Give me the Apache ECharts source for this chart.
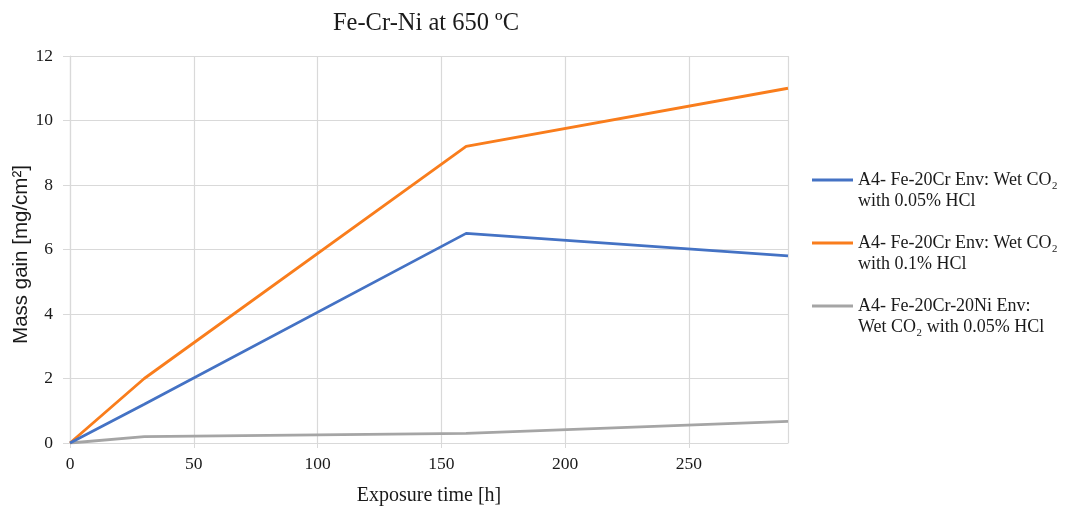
<!DOCTYPE html>
<html>
<head>
<meta charset="utf-8">
<script src="https://cdn.jsdelivr.net/npm/echarts@6/dist/echarts.min.js"></script>
<style>
  html, body { margin: 0; padding: 0; background: #fff; }
  #chart { width: 1070px; height: 507px; }
</style>
</head>
<body>
<div id="chart"></div>
<script>
// Exposure times [h]
const hours = [0, 30, 160, 290];

// Mass gain [mg/cm²] per alloy / environment
const fe20Cr005 = [0, 1.2, 6.5, 5.8];
const fe20Cr01 = [0, 2.0, 9.2, 11.0];
const fe20Cr20Ni005 = [0, 0.2, 0.3, 0.67];

const seriesNames = [
  'A4- Fe-20Cr Env: Wet CO₂\nwith 0.05% HCl',
  'A4- Fe-20Cr Env: Wet CO₂\nwith 0.1% HCl',
  'A4- Fe-20Cr-20Ni Env:\nWet CO₂ with 0.05% HCl'
];
const seriesColors = ['#4472c4', '#f97d1c', '#a5a5a5'];
const seriesValues = [fe20Cr005, fe20Cr01, fe20Cr20Ni005];

const serif = '"Liberation Serif", "DejaVu Serif", serif';
const sans = '"Liberation Sans", Arial, sans-serif';

const chart = echarts.init(document.getElementById('chart'), null, { renderer: 'canvas' });

chart.setOption({
  animation: false,
  backgroundColor: '#ffffff',
  title: {
    text: 'Fe-Cr-Ni at 650 ºC',
    left: 421,
    textAlign: 'center',
    top: 6,
    textStyle: { fontFamily: serif, fontSize: 24.5, fontWeight: 'normal', color: '#1a1a1a' }
  },
  grid: { left: 70, right: 282, top: 56, bottom: 64, containLabel: false, outerBoundsMode: 'none' },
  legend: {
    orient: 'vertical',
    left: 812,
    top: 148.5,
    padding: 0,
    icon: 'rect',
    itemWidth: 41,
    itemHeight: 2.8,
    itemGap: 0,
    // a blank leading line keeps the swatch level with the first text line
    formatter: name => '\n' + name,
    textStyle: {
      fontFamily: serif, fontSize: 18, color: '#1a1a1a', lineHeight: 21
    },
    data: seriesNames
  },
  xAxis: {
    type: 'value',
    min: 0,
    max: 290,
    interval: 50,
    name: 'Exposure time [h]',
    nameLocation: 'middle',
    nameGap: 43,
    nameTextStyle: { fontFamily: serif, fontSize: 20, color: '#1a1a1a' },
    axisLine: { show: true, lineStyle: { color: '#d9d9d9', width: 1.2 } },
    axisTick: { show: true, length: 5, lineStyle: { color: '#d9d9d9' } },
    axisLabel: { fontFamily: serif, fontSize: 17.5, color: '#1a1a1a', margin: 12, showMaxLabel: false },
    splitLine: { show: true, lineStyle: { color: '#d9d9d9', width: 1.2 } }
  },
  yAxis: {
    type: 'value',
    min: 0,
    max: 12,
    interval: 2,
    name: 'Mass gain [mg/cm²]',
    nameLocation: 'middle',
    nameGap: 38,
    nameMoveOverlap: false,
    nameTextStyle: { fontFamily: sans, fontSize: 20.5, color: '#1a1a1a', padding: [0, 10, 0, 0] },
    axisLine: { show: true, lineStyle: { color: '#d9d9d9', width: 1.2 } },
    axisTick: { show: true, length: 7, lineStyle: { color: '#d9d9d9' } },
    axisLabel: { fontFamily: serif, fontSize: 17.5, color: '#1a1a1a', margin: 17 },
    splitLine: { show: true, lineStyle: { color: '#d9d9d9', width: 1.2 } }
  },
  series: seriesNames.map((name, i) => ({
    name: name,
    type: 'line',
    data: hours.map((h, j) => [h, seriesValues[i][j]]),
    showSymbol: false,
    symbol: 'none',
    color: seriesColors[i],
    lineStyle: { color: seriesColors[i], width: 2.8 },
    z: 3 - i
  }))
});
</script>
</body>
</html>
